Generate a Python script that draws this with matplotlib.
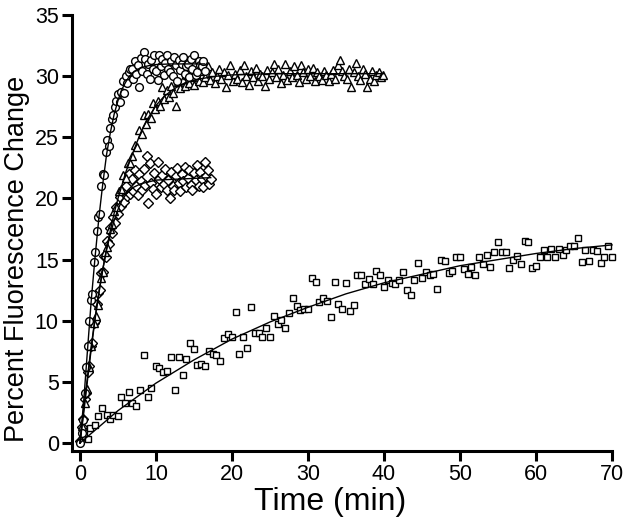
import matplotlib
matplotlib.use("Agg")
import matplotlib.pyplot as plt

plt.rcParams['font.family'] = ['Liberation Sans', 'DejaVu Sans']

################################ data ##########################################

# fast responder (circles), (time in min, % change)
circ_pts = [
    (0.0, 0.0), (0.2, 0.8), (0.4, 1.9), (0.6, 4.1), (0.8, 6.2), (1.0, 7.9),
    (1.2, 10.0), (1.4, 11.7), (1.6, 12.2), (1.8, 14.8), (2.0, 15.6), (2.2, 17.3),
    (2.4, 18.5), (2.6, 18.7), (2.8, 21.0), (3.0, 22.0), (3.2, 21.9), (3.4, 23.8),
    (3.6, 24.8), (3.8, 24.3), (4.0, 25.8), (4.2, 26.5), (4.4, 26.8), (4.6, 27.5),
    (4.8, 28.0), (5.0, 28.5), (5.2, 27.9), (5.4, 28.7), (5.6, 29.6), (5.8, 28.6),
    (6.0, 30.0), (6.2, 29.4), (6.4, 30.3), (6.6, 30.6), (6.8, 30.6), (7.0, 29.8),
    (7.2, 31.2), (7.4, 30.2), (7.6, 30.9), (7.8, 29.1), (8.0, 31.5), (8.2, 30.4),
    (8.4, 32.0), (8.6, 31.4), (8.8, 30.2), (9.0, 31.0), (9.2, 29.8), (9.4, 31.3),
    (9.6, 30.6), (9.8, 31.7), (10.0, 30.4), (10.2, 29.7), (10.4, 31.7), (10.6, 30.8),
    (10.8, 31.4), (11.0, 30.1), (11.2, 31.1), (11.4, 31.7), (11.6, 30.6), (11.8, 30.3),
    (12.0, 31.2), (12.2, 30.0), (12.4, 31.6), (12.6, 30.9), (12.8, 29.6), (13.0, 31.3),
    (13.2, 30.5), (13.4, 31.0), (13.6, 31.6), (13.8, 30.2), (14.0, 30.8), (14.2, 31.0),
    (14.4, 29.9), (14.6, 31.4), (14.8, 30.6), (15.0, 31.7), (15.2, 30.1), (15.4, 30.3),
    (15.6, 31.2), (15.8, 30.9), (16.0, 30.8), (16.2, 31.2), (16.4, 30.4),
]

# triangles
tri_pts = [
    (0.0, 0.3), (0.3, 1.4), (0.6, 3.3), (0.9, 4.4), (1.2, 6.2), (1.5, 7.9),
    (1.8, 9.8), (2.1, 10.4), (2.4, 11.3), (2.7, 13.5), (3.0, 14.0), (3.3, 15.6),
    (3.6, 16.0), (3.9, 17.5), (4.2, 17.9), (4.5, 19.0), (4.8, 19.3), (5.1, 20.6),
    (5.4, 20.8), (5.7, 21.9), (6.0, 21.7), (6.3, 22.9), (6.6, 22.9), (6.9, 23.5),
    (7.2, 24.4), (7.5, 24.2), (7.8, 25.6), (8.1, 25.3), (8.4, 26.8), (8.7, 26.1),
    (9.0, 26.9), (9.3, 26.6), (9.6, 27.8), (9.9, 27.3), (10.2, 28.0), (10.5, 27.6),
    (10.8, 29.1), (11.1, 28.1), (11.4, 28.9), (11.7, 28.3), (12.0, 29.2), (12.3, 28.6),
    (12.6, 27.6), (12.9, 29.5), (13.2, 29.0), (13.5, 29.7), (13.8, 29.2), (14.1, 30.1),
    (14.4, 29.4), (14.7, 29.9), (15.0, 29.3), (15.3, 30.2), (15.6, 29.6), (15.9, 30.4),
    (16.2, 29.5), (16.5, 29.9), (16.8, 30.8), (17.1, 29.7), (17.4, 30.3), (17.7, 29.4),
    (18.0, 30.0), (18.3, 30.6), (18.6, 29.8), (18.9, 30.3), (19.2, 29.1), (19.5, 30.1),
    (19.8, 30.9), (20.1, 29.6), (20.4, 30.2), (20.7, 29.8), (21.0, 30.5), (21.3, 29.5),
    (21.6, 30.9), (21.9, 30.0), (22.2, 29.3), (22.5, 30.4), (22.8, 29.9), (23.1, 30.7),
    (23.4, 29.6), (23.7, 30.2), (24.0, 30.0), (24.3, 29.2), (24.6, 30.5), (24.9, 29.8),
    (25.2, 30.3), (25.5, 31.0), (25.8, 29.9), (26.1, 30.6), (26.4, 29.4), (26.7, 30.1),
    (27.0, 31.0), (27.3, 29.7), (27.6, 30.4), (27.9, 29.9), (28.2, 30.8), (28.5, 30.1),
    (28.8, 29.5), (29.1, 30.9), (29.4, 30.3), (29.7, 29.8), (30.0, 30.6), (30.3, 30.0),
    (30.6, 30.7), (30.9, 29.6), (31.2, 30.3), (31.5, 30.0), (31.8, 29.7), (32.1, 30.4),
    (32.4, 30.1), (32.7, 29.6), (33.0, 30.2), (33.3, 30.5), (33.6, 29.8), (33.9, 30.9),
    (34.2, 31.3), (34.5, 30.4), (34.8, 30.0), (35.1, 29.8), (35.4, 30.6), (35.7, 29.1),
    (36.0, 30.3), (36.3, 31.1), (36.6, 30.0), (36.9, 29.7), (37.2, 30.6), (37.5, 30.2),
    (37.8, 29.1), (38.1, 29.8), (38.4, 30.4), (38.7, 29.6), (39.0, 30.1), (39.3, 30.3),
    (39.6, 29.9), (39.9, 30.1),
]

# diamonds
dia_pts = [
    (0.0, 0.2), (0.2, 1.3), (0.4, 2.0), (0.6, 3.6), (0.8, 4.1), (1.0, 5.8),
    (1.2, 6.3), (1.4, 7.9), (1.6, 8.2), (1.8, 9.8), (2.0, 10.0), (2.2, 11.4),
    (2.4, 12.3), (2.6, 12.5), (2.8, 13.9), (3.0, 14.0), (3.2, 15.3), (3.4, 15.2),
    (3.6, 16.5), (3.8, 16.3), (4.0, 17.6), (4.2, 17.2), (4.4, 18.5), (4.6, 18.0),
    (4.8, 19.3), (5.0, 18.7), (5.2, 20.1), (5.4, 19.4), (5.6, 20.5), (5.8, 19.7),
    (6.0, 21.0), (6.2, 20.2), (6.4, 22.0), (6.6, 20.4), (6.8, 21.6), (7.0, 20.6),
    (7.2, 22.3), (7.4, 21.0), (7.6, 20.3), (7.8, 22.0), (8.0, 21.4), (8.2, 20.7),
    (8.4, 22.4), (8.6, 21.1), (8.8, 23.5), (9.0, 19.6), (9.2, 22.9), (9.4, 21.3),
    (9.6, 20.8), (9.8, 22.1), (10.0, 20.4), (10.2, 23.0), (10.4, 21.6), (10.6, 20.9),
    (10.8, 21.9), (11.0, 21.2), (11.2, 22.4), (11.4, 20.7), (11.6, 21.5), (11.8, 20.0),
    (12.0, 22.2), (12.2, 21.0), (12.4, 20.7), (12.6, 21.8), (12.8, 22.5), (13.0, 21.3),
    (13.2, 20.6), (13.4, 22.0), (13.6, 21.4), (13.8, 22.6), (14.0, 20.9), (14.2, 21.7),
    (14.4, 22.3), (14.6, 21.1), (14.8, 20.7), (15.0, 22.1), (15.2, 21.5), (15.4, 22.7),
    (15.6, 21.0), (15.8, 22.2), (16.0, 21.6), (16.2, 20.9), (16.4, 23.0), (16.6, 21.8),
    (16.8, 22.3), (17.0, 21.2), (17.2, 21.6),
]

# slow responder (squares)
sq_pts = [
    (0.5, 0.8), (1.0, 0.3), (1.3, 1.2), (2.0, 1.5), (2.4, 2.2), (2.9, 2.9),
    (3.5, 2.3), (3.9, 2.0), (4.4, 2.3), (5.0, 2.2), (5.4, 3.8), (5.9, 3.3),
    (6.5, 4.2), (6.9, 3.3), (7.4, 3.0), (7.9, 4.3), (8.4, 7.2), (8.9, 3.8),
    (9.4, 4.5), (10.0, 6.3), (10.4, 6.1), (10.9, 5.8), (11.5, 5.9), (12.0, 7.0),
    (12.5, 4.3), (13.0, 7.0), (13.5, 5.6), (13.9, 6.9), (14.5, 8.2), (15.0, 7.7),
    (15.4, 6.4), (15.9, 6.5), (16.4, 6.3), (17.0, 7.5), (17.5, 7.3), (17.9, 7.2),
    (18.4, 6.7), (19.0, 8.6), (19.5, 8.9), (20.0, 8.7), (20.5, 10.7), (20.9, 7.3),
    (21.5, 8.7), (22.0, 7.8), (22.5, 11.1), (23.0, 9.0), (23.5, 9.0), (24.0, 8.7),
    (24.5, 9.4), (25.0, 8.7), (25.5, 10.4), (26.0, 9.7), (26.5, 10.1), (27.0, 9.4),
    (27.5, 10.6), (28.0, 11.9), (28.5, 11.2), (29.0, 10.9), (29.5, 11.0), (30.0, 11.0),
    (30.5, 13.5), (31.0, 13.2), (31.5, 11.5), (32.0, 11.9), (32.5, 11.6), (33.0, 10.3),
    (33.5, 13.2), (34.0, 11.4), (34.5, 11.0), (35.0, 13.1), (35.5, 10.8), (36.0, 11.3),
    (36.5, 13.7), (37.0, 13.7), (37.5, 13.0), (38.0, 13.4), (38.5, 13.0), (39.0, 14.1),
    (39.5, 13.7), (40.0, 12.8), (40.5, 13.3), (41.0, 13.1), (41.5, 13.0), (42.0, 13.3),
    (42.5, 14.0), (43.0, 12.5), (43.5, 12.1), (44.0, 13.3), (44.5, 14.7), (45.0, 13.5),
    (45.5, 14.0), (46.0, 13.7), (46.5, 13.8), (47.0, 12.6), (47.5, 15.0), (48.0, 14.9),
    (48.5, 13.9), (49.0, 14.1), (49.5, 15.2), (50.0, 15.2), (50.5, 14.2), (51.0, 13.8),
    (51.5, 14.4), (52.0, 13.7), (52.5, 15.2), (53.0, 14.6), (53.5, 15.4), (54.0, 14.4),
    (54.5, 15.6), (55.0, 16.4), (55.5, 15.6), (56.0, 15.6), (56.5, 14.3), (57.0, 15.0),
    (57.5, 15.3), (58.0, 14.6), (58.5, 16.5), (59.0, 16.4), (59.5, 14.3), (60.0, 14.5),
    (60.5, 15.2), (61.0, 15.8), (61.5, 15.2), (62.0, 15.9), (62.5, 15.2), (63.0, 15.9),
    (63.5, 15.4), (64.0, 15.8), (64.5, 16.1), (65.0, 16.1), (65.5, 16.8), (66.0, 14.8),
    (66.5, 15.8), (67.0, 14.9), (67.5, 15.8), (68.0, 15.7), (68.5, 14.7), (69.0, 15.2),
    (69.5, 16.1), (70.0, 15.2),
]

# fitted curves
circ_fit = [(0, 0), (0.5, 3.5), (1, 7.7), (1.5, 11.8), (2, 15.3), (2.5, 18.5),
            (3, 21.2), (3.5, 23.6), (4, 25.4), (4.5, 26.9), (5, 28.0), (5.5, 28.9),
            (6, 29.5), (6.5, 30.0), (7, 30.3), (8, 30.7), (9, 30.85), (10, 30.95),
            (12, 31.0), (16.4, 31.0)]
tri_fit = [(0, 0), (0.5, 2.5), (1, 5.2), (1.5, 7.8), (2, 10.2), (2.5, 12.3),
           (3, 14.2), (3.5, 15.9), (4, 17.4), (4.5, 18.8), (5, 20.0), (6, 22.1),
           (7, 23.8), (8, 25.4), (9, 26.6), (10, 27.6), (11, 28.3), (12, 28.8),
           (13, 29.2), (14, 29.5), (16, 29.8), (18, 30.0), (20, 30.1), (25, 30.2),
           (40, 30.2)]
dia_fit = [(0, 0), (0.5, 2.8), (1, 5.5), (1.5, 8.0), (2, 10.3), (2.5, 12.4),
           (3, 14.2), (3.5, 15.8), (4, 17.1), (4.5, 18.2), (5, 19.1), (5.5, 19.8),
           (6, 20.3), (7, 20.9), (8, 21.2), (10, 21.5), (17.2, 21.7)]
sq_fit = [(0, 0), (5, 2.65), (10, 4.9), (15, 6.8), (20, 8.5), (25, 9.9),
          (30, 11.1), (35, 12.2), (40, 13.1), (45, 13.8), (50, 14.5), (55, 15.0),
          (60, 15.5), (65, 15.9), (70, 16.2)]

xticks = [0, 10, 20, 30, 40, 50, 60, 70]
yticks = [0, 5, 10, 15, 20, 25, 30, 35]

################################ plot ##########################################

fig = plt.figure(figsize=(6.27, 5.29), dpi=100)
ax = fig.add_axes([72/627, 78/529, 540/627, 436/529])

def scatter(pts, marker, size):
    t = [p[0] for p in pts]
    y = [p[1] for p in pts]
    ax.plot(t, y, linestyle='none', marker=marker, markersize=size,
            markerfacecolor='white', markeredgecolor='black',
            markeredgewidth=1.0, clip_on=False)

def fitline(pts):
    ax.plot([p[0] for p in pts], [p[1] for p in pts], color='black', lw=1.0,
            clip_on=False, zorder=3)

scatter(sq_pts, 's', 5.0)
scatter(dia_pts, 'D', 4.8)
scatter(tri_pts, '^', 6.0)
scatter(circ_pts, 'o', 5.6)
for f in (sq_fit, dia_fit, tri_fit, circ_fit):
    fitline(f)

ax.set_xlim(-1.05, 70)
ax.set_ylim(-0.65, 35)
ax.set_xticks(xticks)
ax.set_yticks(yticks)
for s in ('top', 'right'):
    ax.spines[s].set_visible(False)
for s in ('left', 'bottom'):
    ax.spines[s].set_linewidth(2.2)
ax.tick_params(width=2.2, length=7, labelsize=15.5, pad=2.5)

ax.set_xlabel('Time (min)', fontsize=23)
ax.set_ylabel('Percent Fluorescence Change', fontsize=19.5)
ax.xaxis.set_label_coords(0.478, -0.083)
ax.yaxis.set_label_coords(-0.077, 0.44)

fig.savefig('out.png', dpi=100)
